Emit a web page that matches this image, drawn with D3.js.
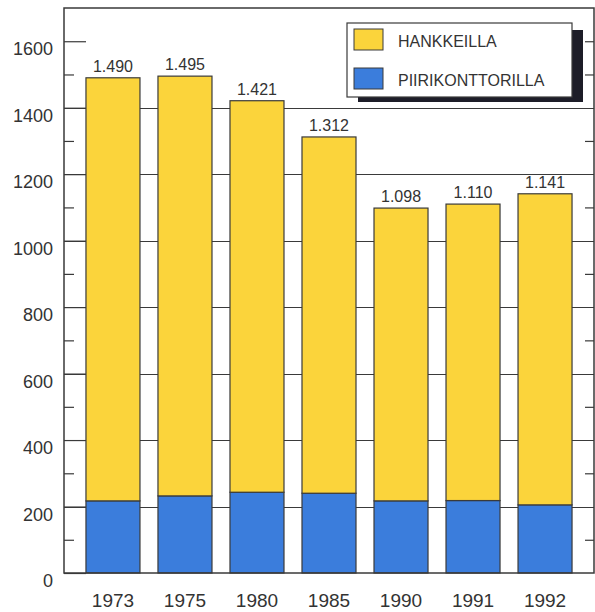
<!DOCTYPE html>
<html>
<head>
<meta charset="utf-8">
<script src="https://cdn.jsdelivr.net/npm/d3@7"></script>
<style>
  html, body { margin: 0; padding: 0; background: #fff; }
  svg { display: block; font-family: "Liberation Sans", Arial, Helvetica, sans-serif; }
</style>
</head>
<body>
<svg id="chart" width="595" height="612"></svg>
<script>
// ---- data ----
const years = ["1973", "1975", "1980", "1985", "1990", "1991", "1992"];
const piirikonttorilla = [217, 232, 243, 240, 217, 218, 205];
const hankkeilla = [1273, 1263, 1178, 1072, 881, 892, 936];
const seriesNames = ["HANKKEILLA", "PIIRIKONTTORILLA"];
const yTicks = [0, 200, 400, 600, 800, 1000, 1200, 1400, 1600];
const yMinorTicks = [100, 300, 500, 700, 900, 1100, 1300, 1500];
const gridValues = [200, 400, 600, 800, 1000, 1200, 1400];

(function () {
// ---- styles ----
const YELLOW = "#fbd43b";
const BLUE = "#3b7ddc";
const LINE = "#3a3a3a";
const TEXT = "#333";

const svg = d3.select("#chart");
const L = 64, R = 594, T = 8, B = 573;

const x = d3.scaleBand().domain(years).range([L, R]).paddingInner(0.25).paddingOuter(0.305);
const y = d3.scaleLinear().domain([0, 1700]).range([B, T]);

const rows = years.map((yr, i) => ({ year: yr, PIIRIKONTTORILLA: piirikonttorilla[i], HANKKEILLA: hankkeilla[i] }));
const stacked = d3.stack().keys(["PIIRIKONTTORILLA", "HANKKEILLA"])(rows);
const color = { HANKKEILLA: YELLOW, PIIRIKONTTORILLA: BLUE };

// gridlines
svg.append("g").selectAll("line").data(gridValues).join("line")
  .attr("x1", L).attr("x2", R)
  .attr("y1", d => Math.round(y(d)) + 0.5).attr("y2", d => Math.round(y(d)) + 0.5)
  .attr("stroke", LINE).attr("stroke-width", 1.2);

// left ticks
svg.append("g").attr("transform", `translate(${L},0)`)
  .call(d3.axisLeft(y).tickValues(yTicks).tickSize(-22).tickFormat(""))
  .call(g => g.select(".domain").remove())
  .call(g => g.selectAll("line").attr("stroke", LINE).attr("stroke-width", 1.2));
svg.append("g").attr("transform", `translate(${L},0)`)
  .call(d3.axisLeft(y).tickValues(yMinorTicks).tickSize(-10).tickFormat(""))
  .call(g => g.select(".domain").remove())
  .call(g => g.selectAll("line").attr("stroke", LINE).attr("stroke-width", 1.2));
// right ticks
svg.append("g").attr("transform", `translate(${R},0)`)
  .call(d3.axisRight(y).tickValues(yMinorTicks.concat([1600])).tickSize(-9).tickFormat(""))
  .call(g => g.select(".domain").remove())
  .call(g => g.selectAll("line").attr("stroke", LINE).attr("stroke-width", 1.2));

// y labels (hang below tick)
svg.append("g").selectAll("text").data(yTicks).join("text")
  .attr("x", 53).attr("y", d => y(d) + 14)
  .attr("text-anchor", "end").attr("font-size", 18).attr("fill", TEXT)
  .text(d => d);

// bars
svg.append("g").selectAll("g").data(stacked).join("g")
  .attr("fill", d => color[d.key])
  .selectAll("rect").data(d => d).join("rect")
  .attr("x", d => x(d.data.year))
  .attr("y", d => y(d[1]))
  .attr("width", x.bandwidth())
  .attr("height", d => y(d[0]) - y(d[1]))
  .attr("stroke", LINE).attr("stroke-width", 1.2);

// value labels
const fmt = d3.formatLocale({ decimal: ",", thousands: ".", grouping: [3], currency: ["", ""] }).format(",d");
svg.append("g").selectAll("text").data(rows).join("text")
  .attr("x", d => x(d.year) + x.bandwidth() / 2)
  .attr("y", d => y(d.PIIRIKONTTORILLA + d.HANKKEILLA) - 6)
  .attr("text-anchor", "middle").attr("font-size", 16).attr("fill", TEXT)
  .text(d => fmt(d.PIIRIKONTTORILLA + d.HANKKEILLA));

// x labels
svg.append("g").selectAll("text").data(years).join("text")
  .attr("x", d => x(d) + x.bandwidth() / 2)
  .attr("y", 607)
  .attr("text-anchor", "middle").attr("font-size", 19).attr("fill", TEXT)
  .text(d => d);

// frame
svg.append("rect").attr("x", L).attr("y", T).attr("width", R - L).attr("height", B - T)
  .attr("fill", "none").attr("stroke", LINE).attr("stroke-width", 1.5);

// legend
const lg = svg.append("g");
lg.append("rect").attr("x", 358).attr("y", 30).attr("width", 225).attr("height", 72).attr("fill", "#1d1d28");
lg.append("rect").attr("x", 347).attr("y", 23).attr("width", 225).attr("height", 74)
  .attr("fill", "#fff").attr("stroke", LINE).attr("stroke-width", 1.2);
seriesNames.forEach((name, i) => {
  lg.append("rect").attr("x", 354).attr("y", 29 + i * 39).attr("width", 29).attr("height", 21)
    .attr("fill", color[name]).attr("stroke", LINE).attr("stroke-width", 1);
  lg.append("text").attr("x", 398).attr("y", 47 + i * 39)
    .attr("font-size", 16).attr("fill", TEXT).text(name);
});
})();
</script>
</body>
</html>
